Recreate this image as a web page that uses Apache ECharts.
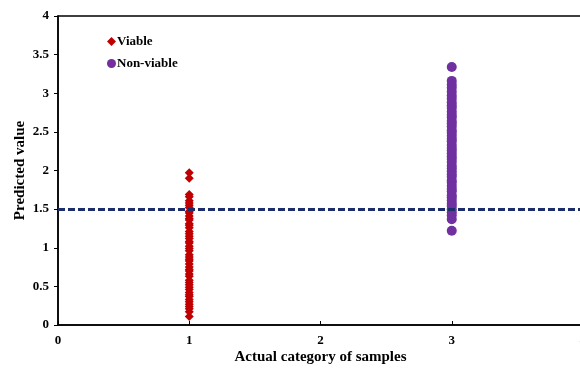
<!DOCTYPE html>
<html>
<head>
<meta charset="utf-8">
<script src="https://cdn.jsdelivr.net/npm/echarts@6/dist/echarts.min.js"></script>
<style>
  html, body { margin: 0; padding: 0; background: #fff; }
  #chart { width: 580px; height: 368px; }
</style>
</head>
<body>
<div id="chart"></div>
<script>
// values
const xTicks = [0, 1, 2, 3, 4];
const yTicks = [0, 0.5, 1, 1.5, 2, 2.5, 3, 3.5, 4];
const viableX = 1;
const viable = [1.97, 1.90, 1.69, 1.66, 1.61, 1.58, 1.55, 1.52, 1.47, 1.45, 1.41, 1.38, 1.36, 1.31,
  1.29, 1.26, 1.21, 1.18, 1.15, 1.12, 1.08, 1.06, 1.02, 0.99, 0.96, 0.91, 0.88, 0.85, 0.83, 0.79,
  0.75, 0.72, 0.70, 0.66, 0.63, 0.58, 0.55, 0.52, 0.49, 0.46, 0.42, 0.39, 0.37, 0.33, 0.30, 0.27,
  0.24, 0.21, 0.17, 0.11];
const nonViableX = 3;
const nonViable = [3.34, 3.16, 3.11, 3.07, 3.02, 2.97, 2.93, 2.88, 2.84, 2.81, 2.76, 2.72, 2.69,
  2.64, 2.61, 2.57, 2.52, 2.49, 2.45, 2.41, 2.38, 2.33, 2.29, 2.26, 2.22, 2.18, 2.15, 2.11, 2.06,
  2.03, 1.99, 1.95, 1.92, 1.87, 1.84, 1.80, 1.76, 1.73, 1.68, 1.65, 1.61, 1.57, 1.54, 1.50, 1.46,
  1.42, 1.37, 1.22];
const threshold = 1.5;

const font = 'Liberation Serif';
const chart = echarts.init(document.getElementById('chart'));

const option = {
  animation: false,
  grid: {
    left: 58,
    top: 16,
    width: 525,
    height: 309,
    outerBoundsMode: 'none',
    show: true,
    borderColor: '#000',
    borderWidth: 1.5,
  },
  legend: {
    orient: 'vertical',
    left: 102,
    top: 30,
    itemWidth: 9,
    itemHeight: 9,
    itemGap: 9,
    textStyle: {
      fontFamily: font,
      fontWeight: 'bold',
      fontSize: 13,
      color: '#000',
      padding: [0, 0, 0, -4],
    },
    data: [
      { name: 'Viable', icon: 'diamond' },
      { name: 'Non-viable', icon: 'circle' },
    ],
  },
  xAxis: {
    type: 'value',
    min: xTicks[0],
    max: xTicks[xTicks.length - 1],
    interval: 1,
    name: 'Actual category of samples',
    nameLocation: 'middle',
    nameGap: 25,
    nameMoveOverlap: false,
    nameTextStyle: { fontFamily: font, fontWeight: 'bold', fontSize: 15, color: '#000' },
    axisLine: { lineStyle: { color: '#000', width: 1.5 } },
    axisTick: { inside: true, length: 4, lineStyle: { color: '#000' } },
    axisLabel: { fontFamily: font, fontWeight: 'bold', fontSize: 13, color: '#000', margin: 9 },
    splitLine: { show: false },
  },
  yAxis: {
    type: 'value',
    min: yTicks[0],
    max: yTicks[yTicks.length - 1],
    interval: 0.5,
    name: 'Predicted value',
    nameLocation: 'middle',
    nameGap: 30,
    nameMoveOverlap: false,
    nameTextStyle: { fontFamily: font, fontWeight: 'bold', fontSize: 15, color: '#000' },
    axisLine: { lineStyle: { color: '#000', width: 1.5 } },
    axisTick: { length: 4, lineStyle: { color: '#000' } },
    axisLabel: { fontFamily: font, fontWeight: 'bold', fontSize: 13, color: '#000', margin: 9 },
    splitLine: { show: false },
  },
  series: [
    {
      name: 'Viable',
      type: 'scatter',
      symbol: 'diamond',
      symbolSize: 9,
      itemStyle: { color: '#c00000', opacity: 1 },
      data: viable.map((v) => [viableX, v]),
      markLine: {
        silent: true,
        symbol: 'none',
        label: { show: false },
        lineStyle: { color: '#1b2d6b', width: 3, type: [7, 3] },
        data: [{ yAxis: threshold }],
      },
    },
    {
      name: 'Non-viable',
      type: 'scatter',
      symbol: 'circle',
      symbolSize: 10,
      itemStyle: { color: '#7030a0', opacity: 1 },
      data: nonViable.map((v) => [nonViableX, v]),
    },
  ],
};
chart.setOption(option);
</script>
</body>
</html>
